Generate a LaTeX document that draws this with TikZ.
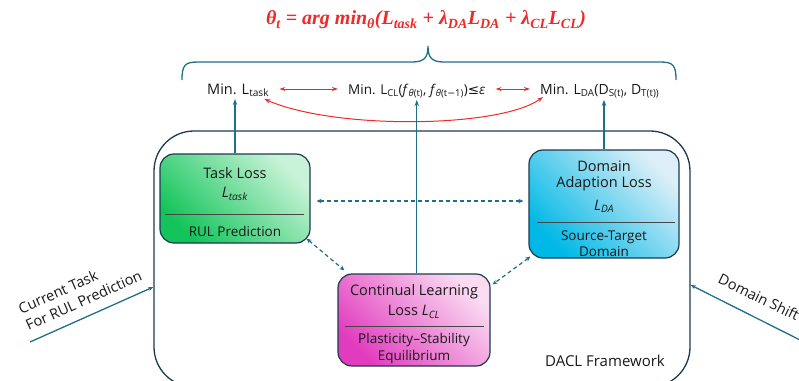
\documentclass[tikz,border=0pt]{standalone}
\usepackage[no-math]{fontspec}
\setmainfont{Open Sans}
\newfontfamily\symfont{DejaVu Sans}
\newfontfamily\formulafont{Liberation Serif}
\usetikzlibrary{arrows.meta,calc}

\definecolor{frameblue}{RGB}{27,58,78}
\definecolor{tealline}{RGB}{31,111,139}
\definecolor{lossred}{RGB}{240,40,40}
\definecolor{sepgray}{RGB}{70,70,70}
\definecolor{textdark}{RGB}{25,25,25}
\definecolor{greendark}{RGB}{18,196,90}
\definecolor{greenlight}{RGB}{201,243,216}
\definecolor{cyandark}{RGB}{0,184,230}
\definecolor{cyanlight}{RGB}{221,239,248}
\definecolor{pinkdark}{RGB}{226,60,190}
\definecolor{pinklight}{RGB}{250,219,242}

\begin{document}
\begin{tikzpicture}[x=1pt,y=-1pt,
  every node/.style={inner sep=0pt, font=\fontsize{14.5}{18}\selectfont, text=textdark},
  lossbox/.style={draw=frameblue, line width=1.2pt, rounded corners=14pt},
  sepline/.style={draw=sepgray, line width=1pt},
  uparrow/.style={draw=tealline, line width=1.3pt, -{Stealth[length=6pt,width=4.5pt]}},
  linkarrow/.style={draw=tealline, line width=1.2pt, dash pattern=on 4pt off 3pt,
    {Stealth[length=5pt,width=4.5pt]}-{Stealth[length=5pt,width=4.5pt]}},
  redarrow/.style={draw=lossred, line width=1pt,
    {Stealth[length=6pt,width=4pt]}-{Stealth[length=6pt,width=4pt]}},
  inarrow/.style={draw=tealline, line width=1.3pt, -{Stealth[length=5pt,width=4pt]}},
  small/.style={font=\fontsize{13.5}{16}\selectfont}
]
\useasboundingbox (0,0) rectangle (799,380);
\clip (0,0) rectangle (799,380);

% objective
\node[text=lossred, font=\formulafont\bfseries\itshape\fontsize{20}{23}\selectfont] (objective) at (426,20)
  {θ\textsubscript{t} = arg min\textsubscript{θ}(L\textsubscript{task} + λ\textsubscript{DA}L\textsubscript{DA} + λ\textsubscript{CL}L\textsubscript{CL})};

% brace over the three minimisation goals
\draw[tealline, line width=1.3pt]
  (182,80) .. controls (182,65) and (185,62) .. (198,62) -- (412,62)
  .. controls (424,62) and (428,58) .. (428,46)
  .. controls (428,58) and (432,62) .. (444,62) -- (660,62)
  .. controls (673,62) and (676,65) .. (676,80);

% minimisation goals
\node[anchor=base west] (mintask) at (207,94) {Min. L\textsubscript{task}};
\node[anchor=base west, font=\fontsize{13.5}{17}\selectfont] (mincl) at (348,94)
  {Min. L\textsubscript{CL}(\textit{f}\textsubscript{\textit{θ}(t)}, \textit{f}\textsubscript{\textit{θ}(t{\symfont −}1)}){\symfont ≤}\textit{ε}};
\node[anchor=base west, font=\fontsize{14}{17}\selectfont] (minda) at (540,94)
  {Min. L\textsubscript{DA}(D\textsubscript{S(t)}, D\textsubscript{T(t))}};

\draw[redarrow] ([xshift=10pt,yshift=5pt]mintask.base east) -- ([xshift=-10pt,yshift=5pt]mincl.base west);
\draw[redarrow] ([xshift=10pt,yshift=5pt]mincl.base east) -- ([xshift=-10pt,yshift=5pt]minda.base west);
\draw[redarrow] ([xshift=-5pt,yshift=-5pt]mintask.base east)
  .. controls (335,130) and (500,128) .. ([xshift=3pt,yshift=-3pt]minda.base west);

% framework outline
\node[draw=frameblue, line width=1.3pt, rounded corners=40pt,
  minimum width=536pt, minimum height=256pt] (frame) at (422,259) {};
\node[font=\fontsize{15}{18}\selectfont] (dacl) at (605,361) {DACL Framework};

% task loss
\node[lossbox, top color=greenlight, bottom color=greendark, shading angle=-45,
  minimum width=150pt, minimum height=89pt] (task) at (235,198.5) {};
\node (tasktitle) at (235,173) {Task Loss};
\node (tasksym) at (235,194) {\textit{L}\textsubscript{\textit{task}}};
\draw[sepline] (165,214) -- (304,214);
\node[small] (tasksub) at (235,231) {RUL Prediction};

% domain adaption loss
\node[lossbox, top color=cyanlight, bottom color=cyandark, shading angle=-45,
  minimum width=150pt, minimum height=108pt] (da) at (604,204) {};
\node (datitle1) at (604,166) {Domain};
\node (datitle2) at (604,184) {Adaption Loss};
\node (dasym) at (604,206) {\textit{L}\textsubscript{\textit{DA}}};
\draw[sepline] (537,222) -- (675,222);
\node[small] (dasub1) at (604,237) {Source-Target};
\node[small] (dasub2) at (604,252) {Domain};

% continual learning loss
\node[lossbox, top color=pinklight, bottom color=pinkdark, shading angle=-45,
  minimum width=152pt, minimum height=92pt] (cl) at (414,320) {};
\node (cltitle1) at (414,292) {Continual Learning};
\node (cltitle2) at (414,312) {Loss \textit{L}\textsubscript{\textit{CL}}};
\draw[sepline] (345,326) -- (484,326);
\node[small] (clsub1) at (414,340) {Plasticity–Stability};
\node[small] (clsub2) at (414,357) {Equilibrium};

% losses feed their goals
\draw[uparrow] (task.north) -- ([yshift=-2pt]task.north |- mintask.south);
\draw[uparrow] (cl.north -| mincl.south) -- ([yshift=-2pt]mincl.south);
\draw[uparrow] (da.north) -- ([yshift=-2pt]da.north |- minda.south);

% interactions between the losses
\draw[linkarrow] ($(task.east)+(6,2.5)$) -- ($(task.east -| da.west)+(-5,2.5)$);
\draw[linkarrow] ($(task.south east)+(-4,-5)$) -- ($(cl.north west)+(7,-3)$);
\draw[linkarrow] ($(da.south west)+(2,-2)$) -- ($(cl.north east)+(2,11)$);

% external inputs
\coordinate (taskin) at (30,342);
\coordinate (shiftin) at (800,340);
\draw[inarrow] (taskin) -- ([yshift=-28pt]frame.west);
\draw[inarrow] (shiftin) -- ([yshift=-26pt]frame.east);
\node[rotate=24, align=left, font=\fontsize{14.5}{18}\selectfont] (tasklabel) at (80,292) {Current Task\\For RUL Prediction};
\node[rotate=-26, font=\fontsize{14.5}{18}\selectfont] (shiftlabel) at (759,297) {Domain Shift};
\end{tikzpicture}
\end{document}
